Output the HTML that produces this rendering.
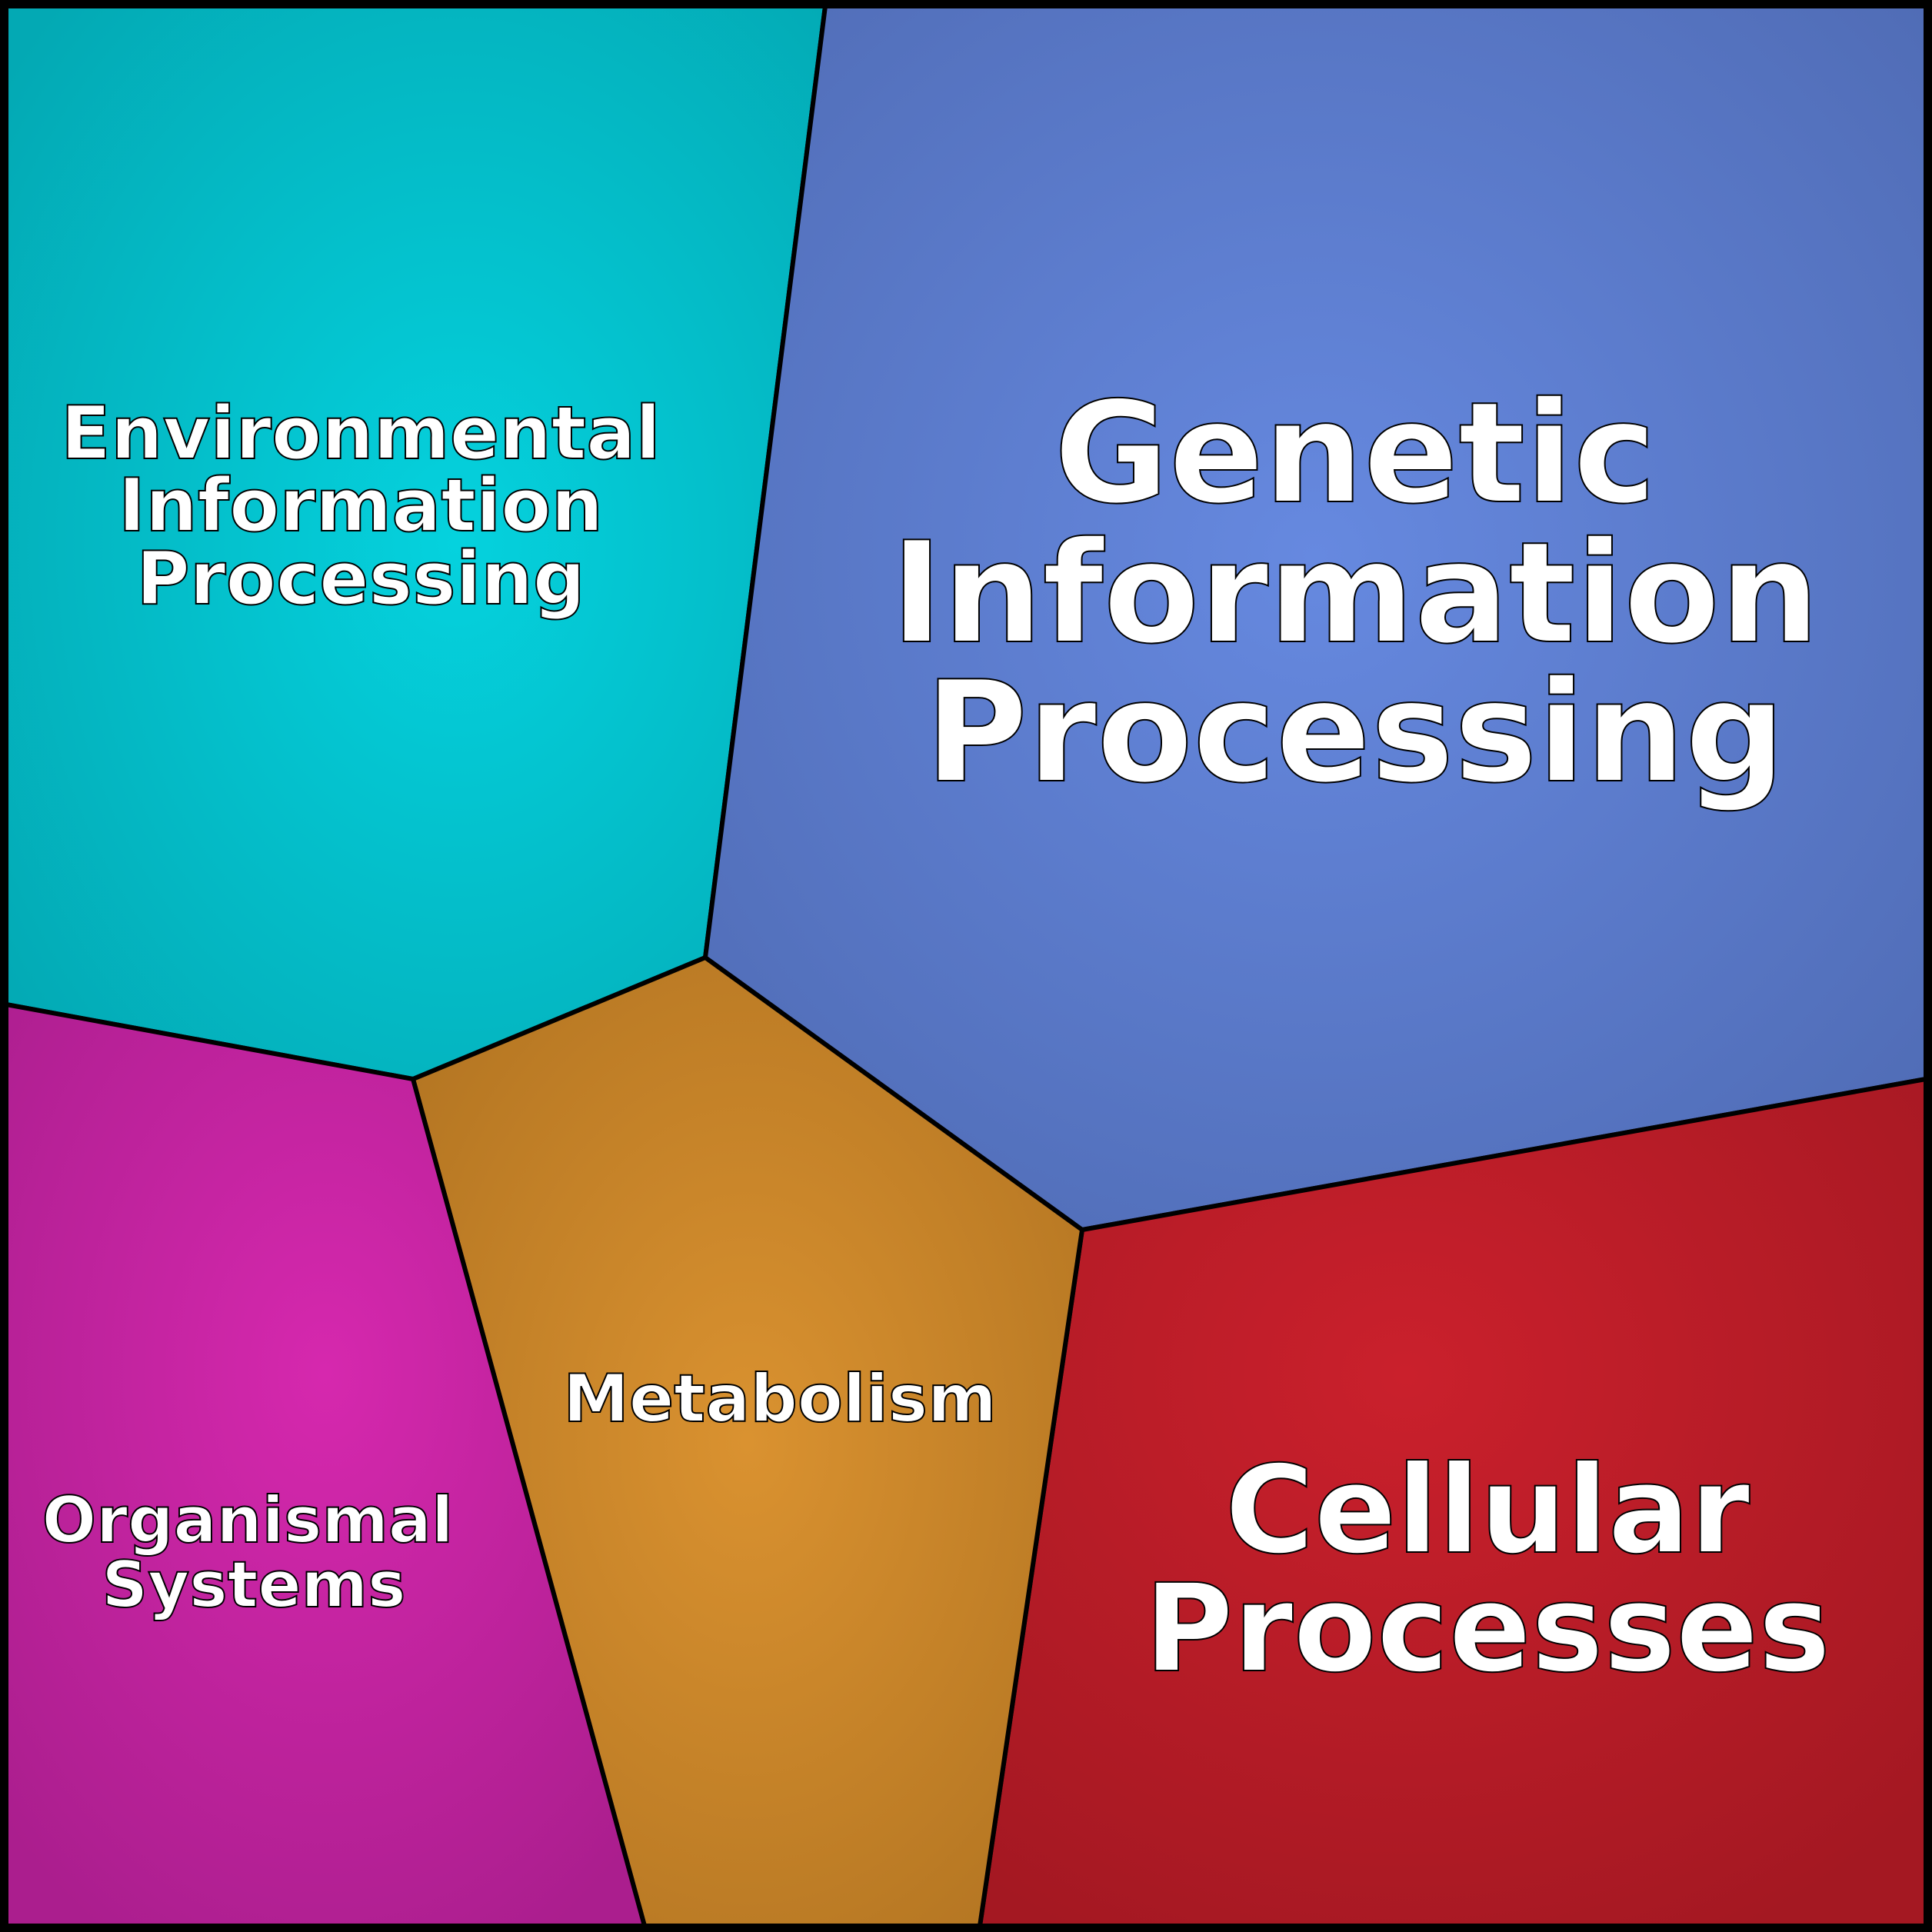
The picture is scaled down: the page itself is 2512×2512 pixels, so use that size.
<!DOCTYPE html>
<html><head><meta charset="utf-8"><style>html,body{margin:0;padding:0;background:#000}svg{display:block}</style></head>
<body>
<svg width="2512" height="2512" viewBox="0 0 2512 2512" xmlns="http://www.w3.org/2000/svg">
<defs>
<radialGradient id="gc" cx="0.55" cy="0.5" r="0.7"><stop offset="0" stop-color="#05d2de"/><stop offset="1" stop-color="#03a9b4"/></radialGradient>
<radialGradient id="gb" cx="0.5" cy="0.45" r="0.7"><stop offset="0" stop-color="#6689e0"/><stop offset="1" stop-color="#4f6bb4"/></radialGradient>
<radialGradient id="gr" cx="0.45" cy="0.35" r="0.75"><stop offset="0" stop-color="#ca202c"/><stop offset="1" stop-color="#a41822"/></radialGradient>
<radialGradient id="go" cx="0.5" cy="0.5" r="0.65"><stop offset="0" stop-color="#da9230"/><stop offset="1" stop-color="#b37522"/></radialGradient>
<radialGradient id="gm" cx="0.5" cy="0.4" r="0.7"><stop offset="0" stop-color="#d628ae"/><stop offset="1" stop-color="#ab1e8e"/></radialGradient>
</defs>
<rect width="2512" height="2512" fill="#000"/>
<g stroke="#000" stroke-width="6" stroke-linejoin="round">
<polygon points="8,8 1073,8 917,1245 537,1403 8,1306" fill="url(#gc)"/>
<polygon points="1073,8 2504,8 2504,1403 1407,1599 917,1245" fill="url(#gb)"/>
<polygon points="2504,1403 2504,2504 1274,2504 1407,1599" fill="url(#gr)"/>
<polygon points="917,1245 1407,1599 1274,2504 838,2504 537,1403" fill="url(#go)"/>
<polygon points="8,1306 537,1403 838,2504 8,2504" fill="url(#gm)"/>
</g>
<rect x="4" y="4" width="2504" height="2504" fill="none" stroke="#000" stroke-width="9"/>
<g font-family="'DejaVu Sans','Liberation Sans',sans-serif" font-weight="bold" fill="#fff" stroke="#000" stroke-width="2" text-anchor="middle">
<g font-size="95"><text x="469" y="596">Environmental</text><text x="469" y="690">Information</text><text x="469" y="785">Processing</text></g>
<g font-size="182"><text x="1762" y="652">Genetic</text><text x="1762" y="834">Information</text><text x="1762" y="1015">Processing</text></g>
<text x="1014" y="1848" font-size="86">Metabolism</text>
<g font-size="83"><text x="322" y="2005">Organismal</text><text x="330" y="2089">Systems</text></g>
<g font-size="158"><text x="1934" y="2018">Cellular</text><text x="1934" y="2172">Processes</text></g>
</g>
</svg>
</body></html>
